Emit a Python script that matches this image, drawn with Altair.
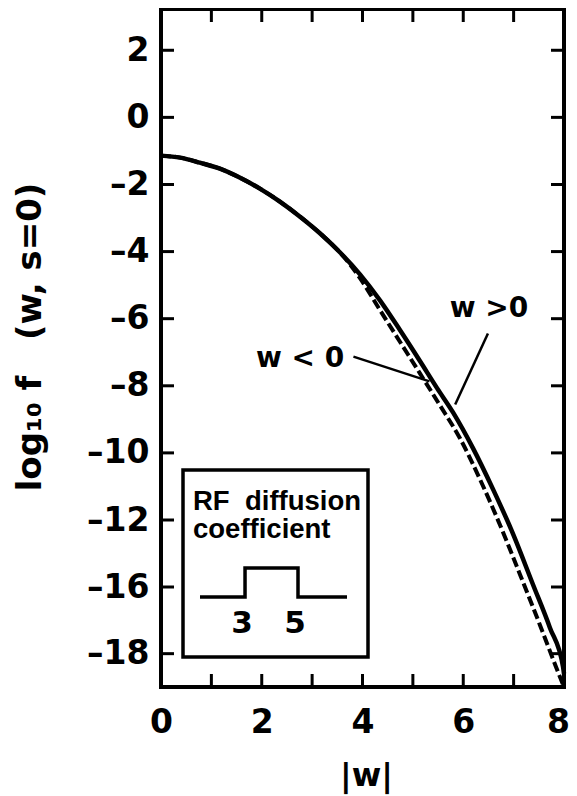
import altair as alt
import pandas as pd

# ---- data ----
# solid curve: w > 0
w_pos = [0.0, 0.38, 0.77, 1.17, 1.57, 1.97, 2.36, 2.76, 3.16, 3.55, 3.95, 4.35, 4.74, 5.14,
         5.48, 5.80, 6.19, 6.59, 6.99, 7.38, 7.72, 7.98, 8.0]
f_pos = [-1.14, -1.20, -1.35, -1.53, -1.80, -2.13, -2.51, -2.96, -3.46, -4.02, -4.68, -5.46,
         -6.33, -7.26, -8.07, -8.80, -9.85, -11.08, -12.84, -15.82, -17.22, -18.39, -18.6]
# dashed curve: w < 0
w_neg = [0.0, 0.38, 0.77, 1.17, 1.57, 1.97, 2.36, 2.76, 3.16, 3.55, 3.95, 4.35, 4.74, 5.14,
         5.54, 5.94, 6.33, 6.73, 7.13, 7.52, 7.84, 8.0]
f_neg = [-1.14, -1.20, -1.35, -1.53, -1.80, -2.13, -2.51, -2.96, -3.46, -4.02, -4.79, -5.75,
         -6.68, -7.63, -8.59, -9.58, -10.78, -12.30, -15.28, -17.13, -18.39, -19.0]

# axis ticks
x_labels = [0, 2, 4, 6, 8]
x_minor = [1, 2, 3, 4, 5, 6, 7]
y_labels = [2, 0, -2, -4, -6, -8, -10, -12, -16, -18]

# annotations
ann_text = ["w < 0", "w >0"]
ann_w = [2.76, 6.51]
ann_f = [-7.2, -5.71]
lead_w1 = [3.82, 6.49]
lead_f1 = [-7.13, -6.44]
lead_w2 = [5.33, 5.84]
lead_f2 = [-7.87, -8.56]

# inset: RF diffusion coefficient step profile
step_w = [1.3, 3.0, 3.0, 5.0, 5.0, 6.85]
step_d = [0, 0, 1, 1, 0, 0]
step_lab_w = [3, 5]
step_lab = ["3", "5"]
inset_lines = ["RF\u00a0\u00a0diffusion", "coefficient"]

W, H = 403, 678
FONT = "DejaVu Sans"

xs = alt.Scale(domain=[0, 8], nice=False, zero=False)
ys = alt.Scale(domain=[-19, -16, -12, 3.23], range=[H, 578, 511, 0], nice=False, zero=False)

XT = "|w|"
YT = "log\u2081\u2080 f\u00a0\u00a0\u00a0(w,\u00a0s=0)"

x_axis = alt.Axis(values=x_labels, grid=False, domain=False, ticks=False, tickSize=0,
                  labelFlush=False, labelPadding=19, labelFont=FONT, labelFontWeight="bold",
                  labelFontSize=33, labelColor="black",
                  labelOffset=alt.condition("datum.value == 8", alt.value(-6), alt.value(0)),
                  titleFont=FONT, titleFontWeight="bold",
                  titleFontSize=32, titleColor="black", titleX=205, titleY=88,
                  titleBaseline="middle", titleAlign="center")
y_axis = alt.Axis(values=y_labels, grid=False, domain=False, ticks=False, tickSize=0,
                  labelFlush=False, labelPadding=12, labelFont=FONT, labelFontWeight="bold",
                  labelFontSize=33, labelColor="black",
                  labelExpr="datum.value < 0 ? '\u2013' + abs(datum.value) : '' + datum.value",
                  titleFont=FONT, titleFontWeight="bold", titleFontSize=34, titleColor="black",
                  titleX=-131, titleY=327.5, titleAngle=270, titleAlign="center",
                  titleBaseline="middle")


def X(field):
    return alt.X(field, type="quantitative", scale=xs, axis=x_axis, title=XT)


def Y(field):
    return alt.Y(field, type="quantitative", scale=ys, axis=y_axis, title=YT)


df_pos = pd.DataFrame({"w": w_pos, "f": f_pos})
df_neg = pd.DataFrame({"w": w_neg, "f": f_neg})
df_yt = pd.DataFrame({"f": y_labels})
df_xt = pd.DataFrame({"w": x_minor})
df_ann = pd.DataFrame({"w": ann_w, "f": ann_f, "t": ann_text})
df_lead = pd.DataFrame({"w": lead_w1, "f": lead_f1, "w2": lead_w2, "f2": lead_f2})

left_ticks = alt.Chart(df_yt).mark_rule(color="black", strokeWidth=3).encode(
    y=Y("f"), x=alt.value(0), x2=alt.value(13))
right_ticks = alt.Chart(df_yt).mark_rule(color="black", strokeWidth=3).encode(
    y=Y("f"), x=alt.value(W), x2=alt.value(W - 13))
bottom_ticks = alt.Chart(df_xt).mark_rule(color="black", strokeWidth=3).encode(
    x=X("w"), y=alt.value(H), y2=alt.value(H - 13))
top_ticks = alt.Chart(df_xt).mark_rule(color="black", strokeWidth=3).encode(
    x=X("w"), y=alt.value(0), y2=alt.value(13))

dashed = alt.Chart(df_neg).mark_line(color="black", strokeWidth=4, strokeDash=[10, 4],
                                     interpolate="monotone").encode(x=X("w"), y=Y("f"))
solid = alt.Chart(df_pos).mark_line(color="black", strokeWidth=4.5,
                                    interpolate="monotone").encode(x=X("w"), y=Y("f"))

ann = alt.Chart(df_ann).mark_text(font=FONT, fontWeight="bold", fontSize=28, color="black",
                                  align="center", baseline="middle").encode(
    x=X("w"), y=Y("f"), text="t:N")
leads = alt.Chart(df_lead).mark_rule(color="black", strokeWidth=2.5).encode(
    x=X("w"), y=Y("f"), x2="w2:Q", y2="f2:Q")

box = alt.Chart(pd.DataFrame({"k": [0]})).mark_rect(fill="white", stroke="black", strokeWidth=3.5).encode(
    x=alt.value(22), x2=alt.value(207), y=alt.value(461), y2=alt.value(648))
inset_txt = alt.Chart(pd.DataFrame({"k": [0]})).mark_text(
    text=inset_lines, font="Liberation Sans", fontWeight="bold", fontSize=27.5, lineHeight=28,
    align="left", baseline="alphabetic", color="black").encode(
    x=alt.value(32), y=alt.value(501))

main = alt.layer(left_ticks, right_ticks, bottom_ticks, top_ticks, dashed, solid, leads, ann,
                 box, inset_txt)

sx = alt.Scale(domain=[1.3, 6.85], range=[39, 186], nice=False, zero=False)
sy = alt.Scale(domain=[0, 1], range=[588, 559], nice=False, zero=False)
df_step = pd.DataFrame({"s": step_w, "d": step_d})
df_sl = pd.DataFrame({"s": step_lab_w, "d": [0, 0], "t": step_lab})
step_line = alt.Chart(df_step).mark_line(color="black", strokeWidth=3.5).encode(
    x=alt.X("s:Q", scale=sx, axis=None), y=alt.Y("d:Q", scale=sy, axis=None))
step_text = alt.Chart(df_sl).mark_text(font=FONT, fontWeight="bold", fontSize=31, color="black",
                                       align="center", baseline="middle", dy=27, dx=-3).encode(
    x=alt.X("s:Q", scale=sx, axis=None), y=alt.Y("d:Q", scale=sy, axis=None), text="t:N")
inset = alt.layer(step_line, step_text)

chart = alt.layer(main, inset).resolve_scale(x="independent", y="independent").properties(
    width=W, height=H,
    padding={"left": 153, "top": 1, "right": 5, "bottom": 108},
    autosize=alt.AutoSizeParams(type="none"),
    background="white",
).configure_view(stroke="black", strokeWidth=4)

chart.save("out.html", embed_options={"renderer": "svg", "actions": False})
